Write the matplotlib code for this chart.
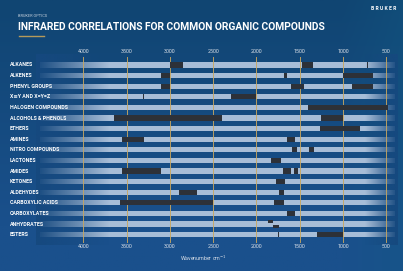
import numpy as np
import matplotlib
matplotlib.use("Agg")
import matplotlib.pyplot as plt

plt.rcParams['font.family'] = ['Roboto', 'DejaVu Sans']

# compound classes, top to bottom
groups = ["ALKANES", "ALKENES", "PHENYL GROUPS", "X\u2261Y AND X=Y=Z",
          "HALOGEN COMPOUNDS", "ALCOHOLS & PHENOLS", "ETHERS", "AMINES",
          "NITRO COMPOUNDS", "LACTONES", "AMIDES", "KETONES", "ALDEHYDES",
          "CARBOXYLIC ACIDS", "CARBOXYLATES", "ANHYDRATES", "ESTERS"]

# absorption bands (from, to) in cm-1
bands = [
    [(3000, 2850), (1470, 1350)],
    [(3100, 3000), (1680, 1645), (1000, 650)],
    [(3100, 3000), (1600, 1450), (900, 650)],
    [(2300, 2000)],
    [(1400, 480)],
    [(3650, 2400), (1260, 1000)],
    [(1270, 800)],
    [(3550, 3300), (1650, 1555)],
    [(1590, 1530), (1390, 1340)],
    [(1835, 1720)],
    [(3550, 3100), (1690, 1605), (1570, 1515)],
    [(1775, 1665)],
    [(2900, 2690), (1740, 1680)],
    [(3580, 2500), (1800, 1680)],
    [(1650, 1560)],
    [],
    [(1300, 1000)],
]
# anhydrides: two split carbonyl bands
anhydride_bands = [(1870, 1810), (1810, 1745)]
# single sharp lines (row, wavenumber)
sharp_lines = [(0, 720), (3, 3300), (16, 1745)]

ticks = [4000, 3500, 3000, 2500, 2000, 1500, 1000, 500]
range_hi, range_lo = 4500, 400

bg = '#16497f'
light = '#a7bdd7'
dark = '#2d3138'
gold = '#c9a75f'

fig = plt.figure(figsize=(4.03, 2.71), dpi=100)
ax = fig.add_axes([0, 0, 1, 1])
ax.set_xlim(4962, 308)
ax.set_ylim(19.43, -6.13)
ax.axis('off')

# background gradient
gx = np.linspace(0, 1, 200)
gy = np.linspace(0, 1, 140)
X, Y = np.meshgrid(gx, gy)
c1 = np.array([0x10, 0x45, 0x72]) / 255
c2 = np.array([0x1a, 0x50, 0x8c]) / 255
c3 = np.array([0x12, 0x5a, 0x84]) / 255
t = np.clip(Y * 1.2, 0, 1)[..., None]
img = c1 * (1 - t) + c2 * t
r = np.clip((X - 0.85) * 5, 0, 1)[..., None] * 0.5
img = img * (1 - r) + c3 * r
ax.imshow(img, extent=(4962, 308, 19.43, -6.13), aspect='auto', zorder=0)

n = len(groups)
rows = np.arange(n)
h = 0.48

# light background bars
ax.barh(rows, range_hi - range_lo, left=range_lo, height=h, color=light, zorder=1)

# fade the bar ends into the background
def fade(x0, x1, reverse=False):
    a = np.linspace(1, 0, 100)
    if reverse:
        a = a[::-1]
    rgba = np.zeros((1, 100, 4))
    rgba[..., :3] = matplotlib.colors.to_rgb(bg)
    rgba[..., 3] = a
    ax.imshow(rgba, extent=(x0, x1, n, -1), aspect='auto', zorder=2,
              interpolation='bilinear')

fade(4550, 3700)
fade(750, 380, reverse=True)

# gold gridlines
for tk in ticks:
    ax.plot([tk, tk], [-0.75, n - 0.35], color=gold, lw=0.7, alpha=0.9, zorder=3)
    ax.text(tk, -1.0, str(tk), color='#d8dfe8', fontsize=3.9, ha='center', va='bottom')
    ax.text(tk, n - 0.1, str(tk), color='#d8dfe8', fontsize=3.9, ha='center', va='top')

# dark absorption bands
for i, bl in enumerate(bands):
    for a, b in bl:
        ax.barh(i, a - b, left=b, height=h, color=dark, zorder=4)
for k, (a, b) in enumerate(anhydride_bands):
    yy = 15 - 0.22 + k * 0.42
    ax.barh(yy, a - b, left=b, height=h * 0.55, color=dark, zorder=4)
for i, w in sharp_lines:
    ax.barh(i, 10, left=w - 5, height=h, color=dark, zorder=4)

# row labels
for i, g in enumerate(groups):
    ax.text(4850, i, g, color='white', fontsize=3.8, fontweight='bold',
            ha='left', va='center', zorder=5)

# header
fig.text(18 / 403, 1 - 16 / 271, "BRUKER OPTICS", color='#c8d2de', fontsize=2.8, va='center')
fig.text(18 / 403, 1 - 27 / 271, "INFRARED CORRELATIONS FOR COMMON ORGANIC COMPOUNDS",
         color='white', fontsize=7.4, fontweight='bold', va='center')
fig.add_artist(plt.Line2D([19 / 403, 44 / 403], [1 - 35.5 / 271] * 2, color='#b59a5a', lw=1.0))
fig.text(396 / 403, 1 - 8 / 271, "B R U K E R", color='white', fontsize=3.6, fontweight='bold',
         ha='right', va='center')
fig.text(203 / 403, 1 - 258 / 271, "Wavenumber cm$^{-1}$", color='#d8dfe8', fontsize=3.8,
         ha='center', va='center')

fig.savefig("out.png", dpi=100, facecolor=bg)
